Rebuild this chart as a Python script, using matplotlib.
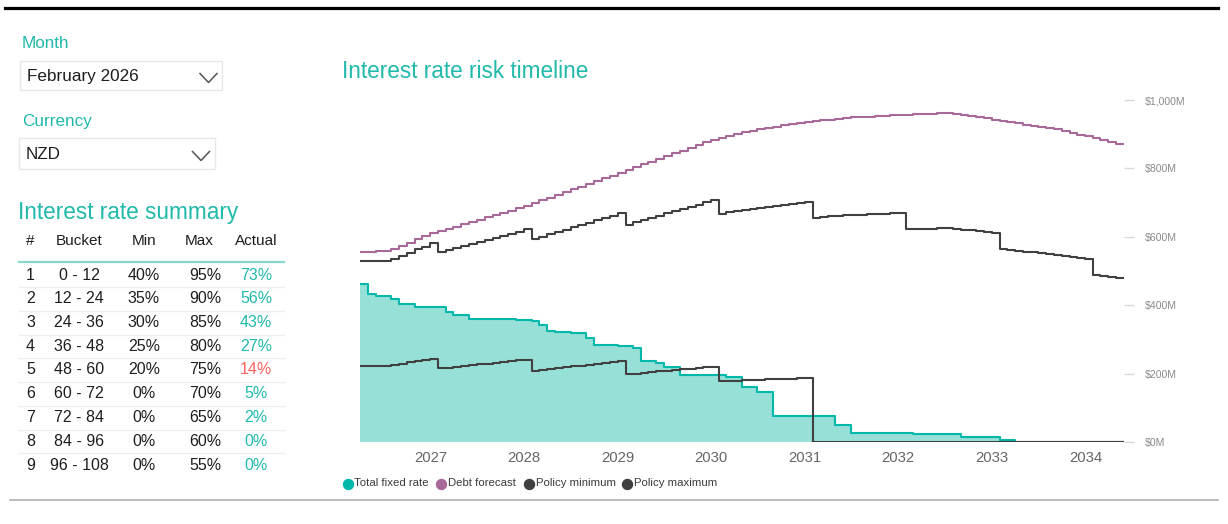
#!/usr/bin/env python3
"""Interest rate risk dashboard: summary table + risk timeline."""
import numpy as np
import pandas as pd
import matplotlib
matplotlib.use('Agg')
import matplotlib.pyplot as plt
import matplotlib.dates as mdates
from matplotlib.lines import Line2D
from matplotlib.patches import Rectangle

plt.rcParams['font.family'] = ['Liberation Sans', 'DejaVu Sans']

# ---- data -------------------------------------------------------------
months = pd.date_range('2026-04-01', periods=98, freq='MS')

# Debt forecast, $M per month
debt_forecast = [
    557, 557, 558, 558,
    564, 574, 583, 593, 602, 612,
    618, 624, 630, 637, 643, 650, 657, 663, 670, 677, 684, 691,
    699, 707, 715, 723, 731, 739, 747, 755, 763, 771, 779, 787,
    795, 803, 812, 820, 828, 836, 844, 852, 860, 868, 876, 884,
    890, 896, 901, 906, 910, 914,
    918, 922, 926, 929, 932, 935,
    938, 941, 943, 945, 947, 949, 950, 951, 953, 954, 955, 956,
    957, 958, 959, 960, 961, 962,
    959, 956, 953, 949, 946, 942, 939, 935, 932, 928, 925, 922, 919,
    914, 909, 904, 899, 894, 889, 884, 878, 872,
]

# Total fixed rate cover, $M per month
total_fixed_rate = [
    462, 434, 426, 426, 419, 405, 405, 395, 395, 395, 395, 382, 372, 372,
    360, 360, 360, 360, 360, 360, 357, 357, 353, 343, 324, 321, 321,
    319, 319, 304, 284, 284, 284, 280, 280, 275, 238, 238, 231, 221, 221,
    197, 197, 197, 197, 197, 197, 190, 190, 162, 162, 148, 148,
    77, 77, 77, 77, 77, 77, 77, 77, 52, 52,
    27, 27, 27, 27, 27, 27, 27, 27,
    23, 23, 23, 23, 23, 23, 16, 16, 16, 16, 16, 6, 6,
    0, 0, 0, 0, 0, 0, 0, 0, 0, 0, 0, 0, 0, 0,
]

bucket_labels = ['0 - 12', '12 - 24', '24 - 36', '36 - 48', '48 - 60',
                 '60 - 72', '72 - 84', '84 - 96', '96 - 108']
min_pct = [40, 35, 30, 25, 20, 0, 0, 0, 0]
max_pct = [95, 90, 85, 80, 75, 70, 65, 60, 55]
actual_pct = [73, 56, 43, 27, 14, 5, 2, 0, 0]

# policy limits = debt forecast x bucket percentage (buckets from Feb 2026)
bucket = ((months.year - 2026) * 12 + months.month - 2) // 12
debt = np.array(debt_forecast, dtype=float)
policy_min = debt * np.array(min_pct)[bucket] / 100
policy_max = debt * np.array(max_pct)[bucket] / 100

# ---- styling -------------------------------------------------------------
W, H = 1228, 524
TEAL = '#01B8AA'
TEAL_TXT = '#20B9AA'
FILL = '#96E0D8'
PURPLE = '#A66999'
DARK = '#404040'
RED = '#FD625E'


def fx(x):
    return x / W


def fy(y):
    return 1 - y / H


fig = plt.figure(figsize=(W / 100, H / 100), dpi=100)
fig.patch.set_facecolor('white')

# frame lines
fig.add_artist(Line2D([fx(5), fx(1218)], [fy(8), fy(8)], color='black',
                      lw=2.3, transform=fig.transFigure))
fig.add_artist(Line2D([fx(10), fx(1218)], [fy(500), fy(500)],
                      color='#A8A8A8', lw=1.1, transform=fig.transFigure))

# ---- slicers -------------------------------------------------------------
def slicer(label, value, label_y, box, chev):
    fig.text(fx(22), fy(label_y), label, color=TEAL_TXT, fontsize=12.3,
             va='center')
    x0, y0, x1, y1 = box
    fig.add_artist(Rectangle((fx(x0), fy(y1)), fx(x1) - fx(x0),
                             fy(y0) - fy(y1), transform=fig.transFigure,
                             fill=False, edgecolor='#E8E8E8', lw=1))
    fig.text(fx(x0 + 7), fy((y0 + y1) / 2 + 1), value, color='#1E1E1E',
             fontsize=12.3, va='center')
    cx, cy = chev
    fig.add_artist(Line2D([fx(cx - 8.5), fx(cx), fx(cx + 8.5)],
                          [fy(cy - 4.5), fy(cy + 4.5), fy(cy - 4.5)],
                          color='#555555', lw=1.1,
                          transform=fig.transFigure))


slicer('Month', 'February 2026', 43.5, (20, 61, 222, 90), (208.5, 78))
slicer('Currency', 'NZD', 121.5, (19, 138, 215, 169), (201, 156))

# ---- summary table -------------------------------------------------------
fig.text(fx(18), fy(212), 'Interest rate summary', color=TEAL_TXT,
         fontsize=16.3, va='center')
hdr_y = 241
fig.text(fx(26), fy(hdr_y), '#', fontsize=11, va='center', color='#1E1E1E')
fig.text(fx(79), fy(hdr_y), 'Bucket', fontsize=11, va='center',
         ha='center', color='#1E1E1E')
fig.text(fx(144), fy(hdr_y), 'Min', fontsize=11, va='center',
         ha='center', color='#1E1E1E')
fig.text(fx(199), fy(hdr_y), 'Max', fontsize=11, va='center',
         ha='center', color='#1E1E1E')
fig.text(fx(256), fy(hdr_y), 'Actual', fontsize=11, va='center',
         ha='center', color='#1E1E1E')
fig.add_artist(Line2D([fx(19), fx(284)], [fy(262), fy(262)],
                      color='#86D8CE', lw=1.6, transform=fig.transFigure))

for i, lab in enumerate(bucket_labels):
    y = 275 + i * 23.75
    fs = 11.5
    fig.text(fx(26), fy(y), str(i + 1), fontsize=fs, va='center',
             color='#1E1E1E')
    fig.text(fx(79), fy(y), lab, fontsize=fs, va='center', ha='center',
             color='#1E1E1E')
    fig.text(fx(144), fy(y), f'{min_pct[i]}%', fontsize=fs, va='center',
             ha='center', color='#1E1E1E')
    fig.text(fx(221), fy(y), f'{max_pct[i]}%', fontsize=fs, va='center',
             ha='right', color='#1E1E1E')
    col = RED if actual_pct[i] < min_pct[i] else TEAL_TXT
    fig.text(fx(256), fy(y), f'{actual_pct[i]}%', fontsize=fs,
             va='center', ha='center', color=col)
    if i < len(bucket_labels) - 1:
        fig.add_artist(Line2D([fx(19), fx(284)], [fy(y + 12), fy(y + 12)],
                              color='#EEEEEE', lw=0.9,
                              transform=fig.transFigure))

# ---- timeline chart ------------------------------------------------------
fig.text(fx(342), fy(72), 'Interest rate risk timeline', color=TEAL_TXT,
         fontsize=16.3, va='center')

ax = fig.add_axes([fx(360), fy(442.3), fx(1124) - fx(360),
                   fy(100) - fy(442.3)])
x_edges = np.append(months.to_numpy(), np.datetime64('2034-06-01'))


def ext(v):
    v = list(v)
    return v + [v[-1]]


ax.fill_between(x_edges, ext(total_fixed_rate), step='post', color=FILL,
                lw=0, zorder=1)
ax.step(x_edges, ext(total_fixed_rate), where='post', color=TEAL, lw=1.5,
        zorder=2)
ax.step(x_edges, ext(policy_min), where='post', color=DARK, lw=1.5,
        zorder=3)
ax.step(x_edges, ext(policy_max), where='post', color=DARK, lw=1.5,
        zorder=3)
ax.step(x_edges, ext(debt_forecast), where='post', color=PURPLE, lw=1.5,
        zorder=3)

ax.set_xlim(x_edges[0], x_edges[-1])
ax.set_ylim(0, 1000)
for s in ax.spines.values():
    s.set_visible(False)
ax.xaxis.set_major_locator(mdates.YearLocator())
ax.xaxis.set_major_formatter(mdates.DateFormatter('%Y'))
ax.tick_params(axis='x', length=0, pad=6, labelsize=10.7,
               labelcolor='#666666')
ax.yaxis.tick_right()
ax.set_yticks([0, 200, 400, 600, 800, 1000])
ax.yaxis.set_major_formatter(plt.FuncFormatter(lambda v, p: f'${v:,.0f}M'))
ax.tick_params(axis='y', length=7, width=1.0, color='#D8D8D8', pad=8,
               labelsize=7.6, labelcolor='#8A8A8A')
for t in ax.yaxis.get_major_ticks():
    t.tick2line.set_linestyle((0, (1, 2.5)))
ax.set_facecolor('none')

# legend
legend_items = [('Total fixed rate', TEAL, 348),
                ('Debt forecast', PURPLE, 441),
                ('Policy minimum', DARK, 529),
                ('Policy maximum', DARK, 627.5)]
for label, c, xm in legend_items:
    fig.add_artist(Line2D([fx(xm)], [fy(483.5)], marker='o', ms=7.2,
                          color=c, lw=0, transform=fig.transFigure))
    fig.text(fx(xm + 6.5), fy(483.5), label, fontsize=8.2, va='center',
             color='#3A3A3A')

plt.savefig('out.png', dpi=100)
print("Generated: out.png")
